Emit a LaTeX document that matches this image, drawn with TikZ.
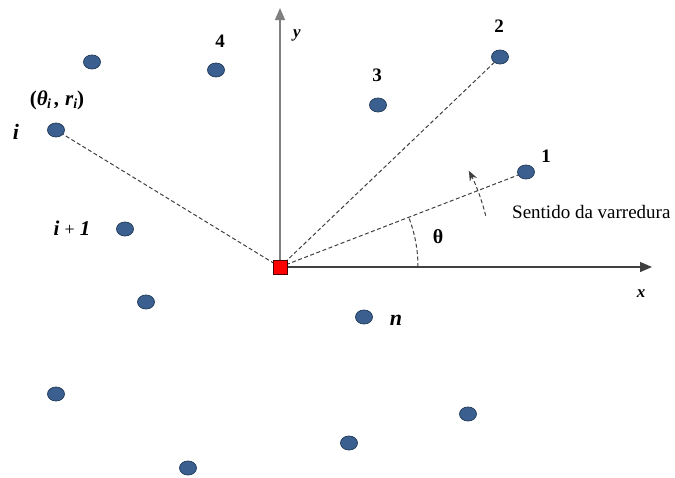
\documentclass[tikz,border=0pt]{standalone}
\usepackage{fontspec}
\setmainfont{Liberation Serif}
\usetikzlibrary{arrows.meta,shapes.geometric}
\definecolor{ptfill}{HTML}{3B5F8E}
\definecolor{ptline}{HTML}{24405F}
\tikzset{
  pt/.style={ellipse,draw=ptline,fill=ptfill,line width=0.8pt,minimum width=17pt,minimum height=14pt,inner sep=0pt},
  lbl/.style={font=\fontsize{19}{21}\selectfont\bfseries,inner sep=0pt},
  ray/.style={dash pattern=on 4pt off 2.5pt,line width=1pt,draw=black!75},
  axis/.style={line width=1.3pt,-{Triangle[length=12pt,width=10pt]}}
}
\begin{document}
\begin{tikzpicture}[x=1pt,y=-1pt]
\useasboundingbox (0,0) rectangle (675,477);
\coordinate (O) at (280,267);
\coordinate (xend) at (652,267);
\coordinate (yend) at (280,8);
\draw[axis,draw=black!75] (O) -- (xend);
\draw[axis,draw=black!50] (O) -- (yend);
\node[font=\fontsize{17}{19}\selectfont\bfseries\itshape] (xl) at (641,294) {x};
\node[font=\fontsize{17}{19}\selectfont\bfseries\itshape] (yl) at (297,35) {y};
% points
\node[pt] (p1) at (526,172) {};
\node[pt] (p2) at (500,57) {};
\node[pt] (p3) at (378,105) {};
\node[pt] (p4) at (216,70) {};
\node[pt] (pa) at (92,62) {};
\node[pt] (pi) at (56,130) {};
\node[pt] (pi1) at (125,229) {};
\node[pt] (pb) at (146,302) {};
\node[pt] (pn) at (364,317) {};
\node[pt] (pc) at (56,394) {};
\node[pt] (pd) at (349,443) {};
\node[pt] (pe) at (468,414) {};
\node[pt] (pf) at (188,468) {};
% rays
\draw[ray] (O) -- (pi);
\draw[ray] (O) -- (p2);
\draw[ray] (O) -- (p1);
% origin
\node[draw=black!70!red,fill=red,minimum size=14pt,inner sep=0pt,line width=0.7pt] (orig) at (O) {};
% labels
\node[lbl] (l1) at (546,156) {1};
\node[lbl] (l2) at (499,26) {2};
\node[lbl] (l3) at (377,75) {3};
\node[lbl] (l4) at (220,41) {4};
\node[lbl,font=\fontsize{22}{24}\selectfont\bfseries\itshape] (li) at (16,132) {i};
\node[lbl,font=\fontsize{21}{23}\selectfont\bfseries\itshape] (lth) at (57,100) {{\upshape(}θ\kern-0.5pt\raisebox{-3pt}{\fontsize{14}{15}\selectfont i}\,, r\raisebox{-3pt}{\fontsize{14}{15}\selectfont i}{\upshape)}};
\node[lbl,font=\fontsize{21}{23}\selectfont\bfseries\itshape] (li1) at (72,228) {i {\upshape\mdseries\fontsize{18}{20}\selectfont +} 1};
\node[lbl,font=\fontsize{22}{24}\selectfont\bfseries\itshape] (ln) at (396,320) {n};
% angle
\draw[ray] ([shift={(0:138)}]O) arc[start angle=0,end angle=-21.1,radius=138];
\node[lbl,font=\fontsize{20}{22}\selectfont\bfseries] (lt) at (438,237) {θ};
% sweep
\draw[ray,-{Stealth[length=10pt,width=8pt]}] ([shift={(-14:212)}]O) arc[start angle=-14,end angle=-27,radius=212];
\node[anchor=west,font=\fontsize{19}{21}\selectfont,inner sep=0pt] (sw) at (512,212) {Sentido da varredura};
\end{tikzpicture}
\end{document}
